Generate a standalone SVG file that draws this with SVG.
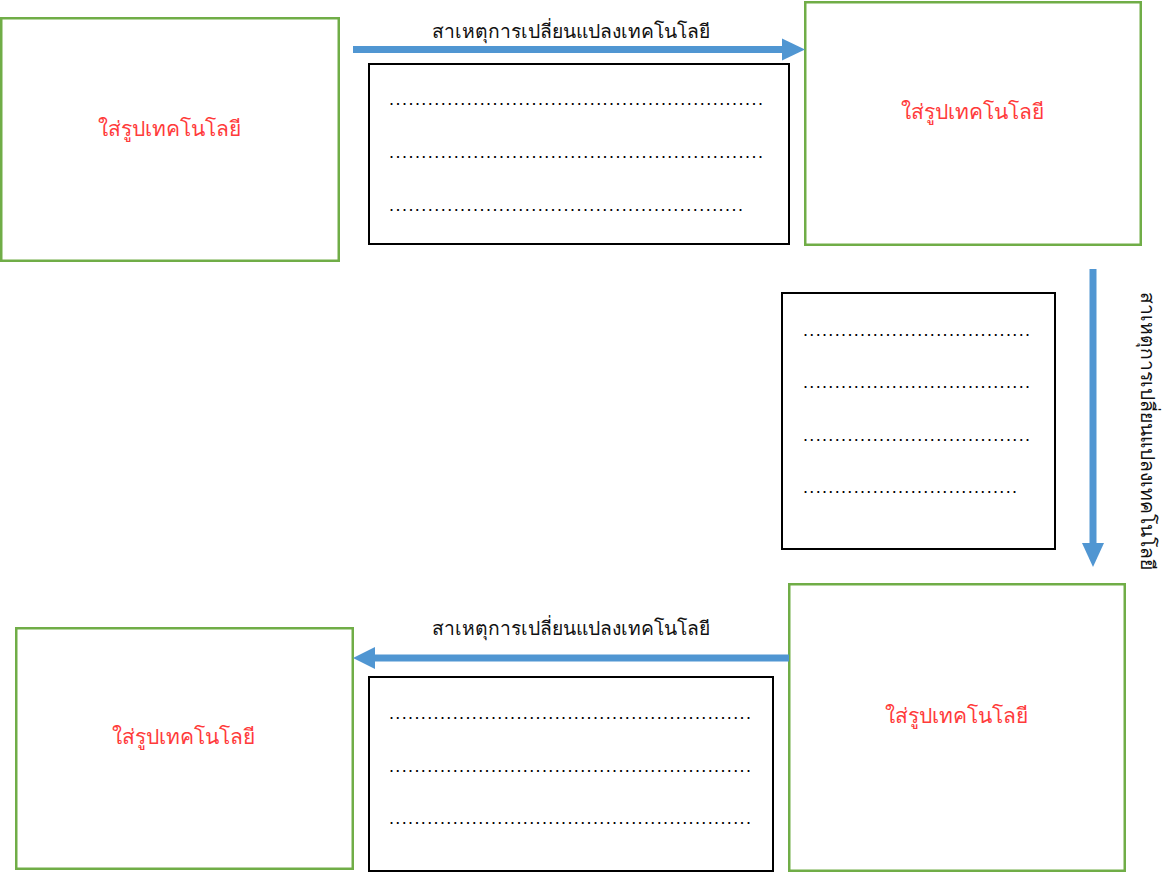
<svg xmlns="http://www.w3.org/2000/svg" width="1163" height="873" viewBox="0 0 1163 873">
  <style>
    .pic { fill: #ffffff; stroke: #70ad47; stroke-width: 2.5; }
    .note { fill: #ffffff; stroke: #000000; stroke-width: 2; }
    .pic-label { font-family: "Noto Sans", "DejaVu Sans", sans-serif; font-size: 21px; fill: #ff3b3b; text-anchor: middle; }
    .cause { font-family: "Noto Sans", "DejaVu Sans", sans-serif; font-size: 19.3px; fill: #111111; text-anchor: middle; }
    .dots { font-family: "Liberation Sans", sans-serif; font-size: 18px; fill: #000000; }
    .flow { stroke: #5096d2; stroke-width: 7; fill: none; }
    .head { fill: #5096d2; }
  </style>
  <rect width="1163" height="873" fill="#ffffff"/>

  <!-- picture placeholders -->
  <g id="tech-1">
    <rect class="pic" x="1.25" y="18.25" width="337.5" height="242.5"/>
    <text class="pic-label" x="169" y="136">ใส่รูปเทคโนโลยี</text>
  </g>
  <g id="tech-2">
    <rect class="pic" x="805.25" y="2.25" width="335.5" height="242.5"/>
    <text class="pic-label" x="972" y="119">ใส่รูปเทคโนโลยี</text>
  </g>
  <g id="tech-3">
    <rect class="pic" x="789.25" y="584.25" width="335.5" height="286.5"/>
    <text class="pic-label" x="956" y="723">ใส่รูปเทคโนโลยี</text>
  </g>
  <g id="tech-4">
    <rect class="pic" x="16.25" y="628.25" width="336.5" height="240.5"/>
    <text class="pic-label" x="183" y="744">ใส่รูปเทคโนโลยี</text>
  </g>

  <!-- note boxes with blank dotted lines -->
  <g id="note-1">
    <rect class="note" x="369" y="64" width="420" height="180"/>
    <text class="dots" x="389" y="105" textLength="374" lengthAdjust="spacing">..........................................................</text>
    <text class="dots" x="389" y="158" textLength="374" lengthAdjust="spacing">..........................................................</text>
    <text class="dots" x="389" y="211" textLength="354" lengthAdjust="spacing">.......................................................</text>
  </g>
  <g id="note-2">
    <rect class="note" x="782" y="293" width="273" height="256"/>
    <text class="dots" x="803" y="336" textLength="227" lengthAdjust="spacing">....................................</text>
    <text class="dots" x="803" y="388" textLength="227" lengthAdjust="spacing">....................................</text>
    <text class="dots" x="803" y="441" textLength="227" lengthAdjust="spacing">....................................</text>
    <text class="dots" x="803" y="493" textLength="214" lengthAdjust="spacing">..................................</text>
  </g>
  <g id="note-3">
    <rect class="note" x="369" y="677" width="404" height="194"/>
    <text class="dots" x="389" y="719" textLength="362" lengthAdjust="spacing">.........................................................</text>
    <text class="dots" x="389" y="772" textLength="362" lengthAdjust="spacing">.........................................................</text>
    <text class="dots" x="389" y="824" textLength="362" lengthAdjust="spacing">.........................................................</text>
  </g>

  <!-- connectors -->
  <g id="connectors">
    <line class="flow" x1="353" y1="49.5" x2="784" y2="49.5"/>
    <polygon class="head" points="782,38.5 805,49.5 782,60.5"/>
    <text class="cause" x="571" y="38">สาเหตุการเปลี่ยนแปลงเทคโนโลยี</text>

    <line class="flow" x1="1093" y1="269" x2="1093" y2="545"/>
    <polygon class="head" points="1082,543 1093,567 1104,543"/>
    <text class="cause" transform="translate(1141 430.5) rotate(90)" x="0" y="0">สาเหตุการเปลี่ยนแปลงเทคโนโลยี</text>

    <line class="flow" x1="789" y1="658" x2="373" y2="658"/>
    <polygon class="head" points="375,647 353,658 375,669"/>
    <text class="cause" x="571" y="635">สาเหตุการเปลี่ยนแปลงเทคโนโลยี</text>
  </g>
</svg>
